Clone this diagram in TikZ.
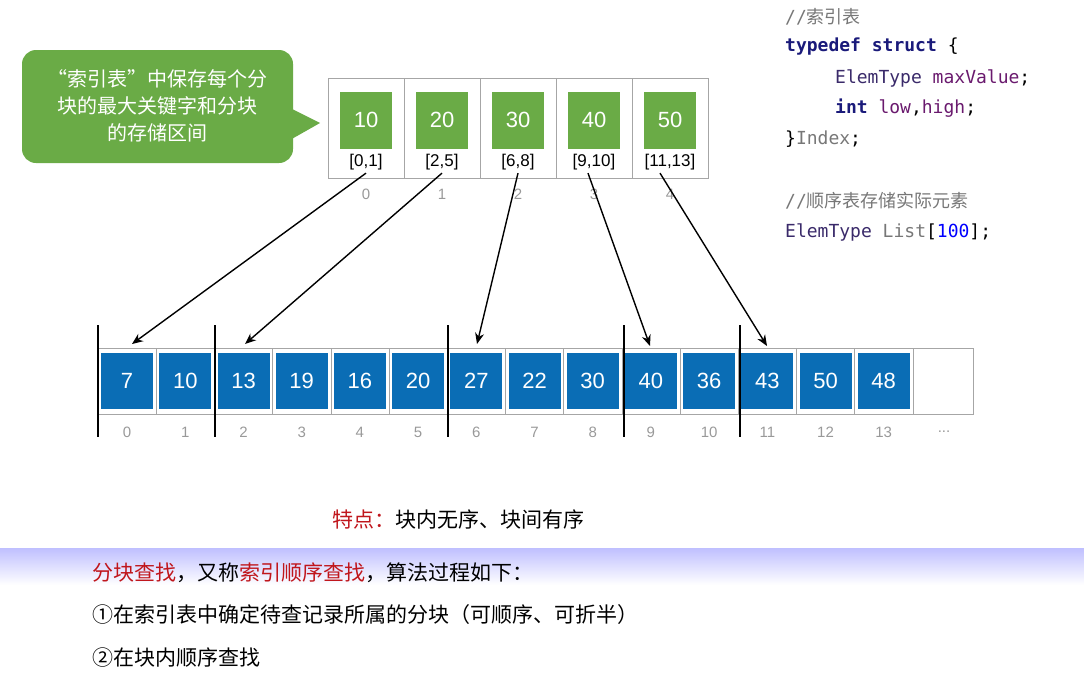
\documentclass[tikz,border=0pt]{standalone}
\usepackage{fontspec}
\setmainfont{Liberation Sans}
\newfontfamily\cjk{Noto Sans CJK SC}
\newfontfamily\cmono{DejaVu Sans Mono}
\usetikzlibrary{arrows.meta}
\definecolor{gr}{HTML}{6AAB46}
\definecolor{bl}{HTML}{0A6DB5}
\definecolor{kw}{HTML}{1A1A7A}
\definecolor{pu}{HTML}{6A1A6E}
\definecolor{ty}{HTML}{3A2A6A}
\definecolor{cm}{HTML}{777777}
\definecolor{rd}{HTML}{C0161C}
\tikzset{
  gbox/.style={fill=gr,minimum width=52pt,minimum height=57pt,inner sep=0,text=white,font=\fontsize{22}{22}\selectfont},
  bbox/.style={fill=bl,minimum width=52pt,minimum height=56pt,inner sep=0,text=white,font=\fontsize{22}{22}\selectfont},
  rng/.style={font=\fontsize{17}{17}\selectfont},
  idx/.style={text=gray!80,font=\fontsize{15}{15}\selectfont},
  cell/.style={draw=gray!70,line width=0.6pt},
  sep/.style={line width=1.6pt},
  arr/.style={line width=1.4pt,-{Stealth[length=11pt,width=9pt]}},
  code/.style={anchor=west,inner sep=0,font=\cmono\fontsize{18}{18}\selectfont},
  ztxt/.style={anchor=west,inner sep=0,font=\cjk\fontsize{21}{21}\selectfont}
}
\begin{document}
\begin{tikzpicture}[x=1pt,y=-1pt]
\useasboundingbox (0,0) rectangle (1084,688);
% separator shading
\shade[top color=blue!25,bottom color=white] (0,548) rectangle (1084,585);
% callout
\fill[gr,rounded corners=14pt] (22,50) rectangle (293,163);
\fill[gr] (290,108) -- (320,123) -- (290,140) -- cycle;
\node[align=center,text=white,font=\cjk\fontsize{20}{27}\selectfont] (call) at (157,106) {“索引表”中保存每个分\\块的最大关键字和分块\\的存储区间};
% index table
\foreach \i/\v/\r in {0/10/{[0,1]},1/20/{[2,5]},2/30/{[6,8]},3/40/{[9,10]},4/50/{[11,13]}}{
  \draw[cell] (328+76*\i,78) rectangle (404+76*\i,178);
  \node[gbox] (g\i) at (366+76*\i,120) {\v};
  \node[rng,inner sep=1pt] (r\i) at (366+76*\i,162) {\r};
  \node[idx] (ti\i) at (366+76*\i,194) {\i};
}
% array
\foreach \i/\v in {0/7,1/10,2/13,3/19,4/16,5/20,6/27,7/22,8/30,9/40,10/36,11/43,12/50,13/48}{
  \draw[cell] (98+58.2*\i,348) rectangle (156.2+58.2*\i,414);
  \node[bbox] (a\i) at (127.1+58.2*\i,381) {\v};
  \node[idx] (ai\i) at (127.1+58.2*\i,432) {\i};
}
\draw[cell] (912.8,348) rectangle (973,414);
\node[idx] (dots) at (944,432) {...};
\foreach \x/\n in {98/s0,215/s1,448/s2,624/s3,740/s4}{
  \coordinate (\n t) at (\x,325); \coordinate (\n b) at (\x,437);
  \draw[sep] (\n t) -- (\n b);
}
% arrows
\coordinate (e0) at (132,344); \coordinate (e1) at (245,344);
\coordinate (e2) at (477,344); \coordinate (e3) at (650,346);
\coordinate (e4) at (767,346);
\draw[arr] (r0.south) ++(0,2) -- (e0);
\draw[arr] (r1.south) ++(0,2) -- (e1);
\draw[arr] (r2.south) ++(0,2) -- (e2);
\draw[arr] (r3.south) ++(-6,2) -- (e3);
\draw[arr] (r4.south) ++(-10,2) -- (e4);
% code
\node[code,text=cm] (c1) at (785,17) {//{\cjk 索引表}};
\node[code,text=kw] (c2) at (785,47) {\bfseries typedef struct \mdseries\color{black}\{};
\node[code] (c3) at (835,78) {\color{ty}ElemType \color{pu}maxValue\color{black};};
\node[code] (c4) at (835,108) {\color{kw}\bfseries int \mdseries\color{pu}low\color{black},\color{pu}high\color{black};};
\node[code] (c5) at (785,139) {\}\color{cm}Index\color{black};};
\node[code,text=cm] (c6) at (785,201) {//{\cjk 顺序表存储实际元素}};
\node[code] (c7) at (785,232) {\color{ty}ElemType \color{cm}List\color{black}[\color{blue}100\color{black}];};
% texts
\node[ztxt] (t0) at (332,519) {\color{rd}特点：\color{black}块内无序、块间有序};
\node[ztxt] (t1) at (92,573) {\color{rd}分块查找\color{black}，又称\color{rd}索引顺序查找\color{black}，算法过程如下：};
\node[ztxt] (t2) at (92,615) {①在索引表中确定待查记录所属的分块（可顺序、可折半）};
\node[ztxt] (t3) at (92,658) {②在块内顺序查找};
\end{tikzpicture}
\end{document}
